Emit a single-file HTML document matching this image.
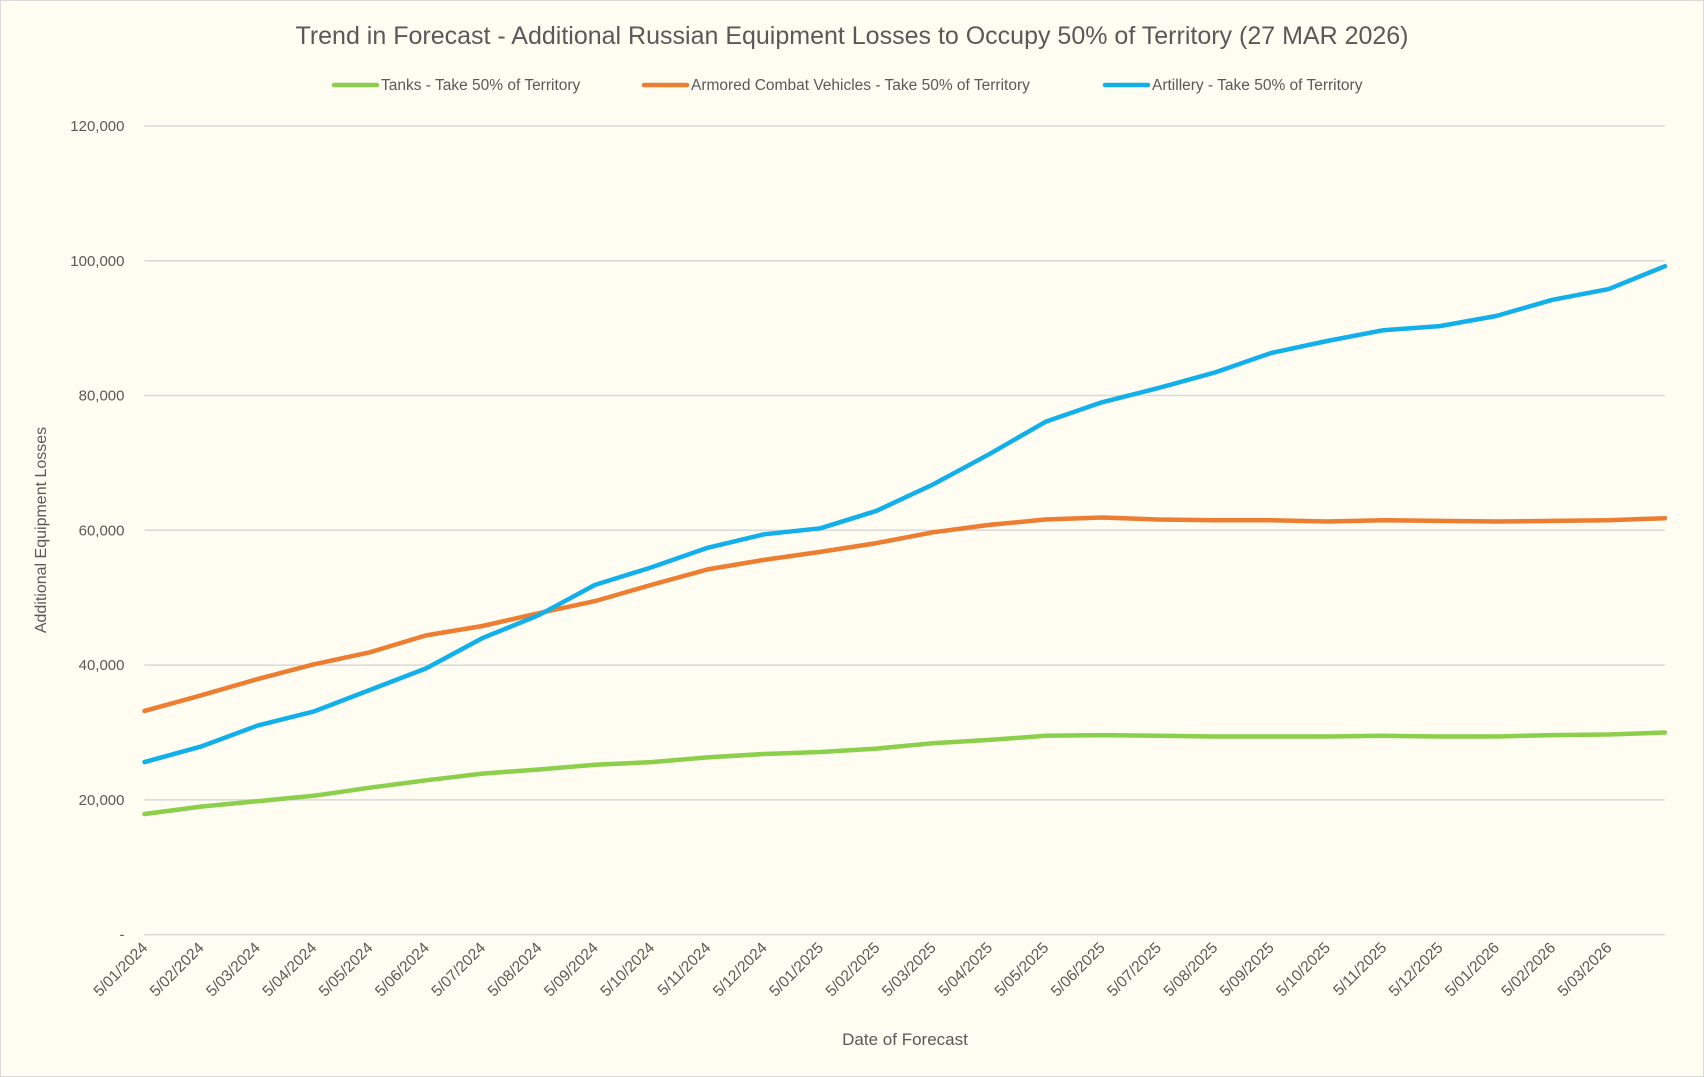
<!DOCTYPE html>
<html><head><meta charset="utf-8">
<style>
html,body{margin:0;padding:0;background:#fffcf2;}
svg{display:block;font-family:"Liberation Sans",sans-serif;}
</style></head>
<body>
<svg id="chart" width="1704" height="1077" viewBox="0 0 1704 1077" xmlns="http://www.w3.org/2000/svg">
<rect x="0.5" y="0.5" width="1703" height="1076" fill="#fffcf2" stroke="#d9d9d9"/>
<text x="852" y="44" text-anchor="middle" font-size="25" fill="#595959">Trend in Forecast - Additional Russian Equipment Losses to Occupy 50% of Territory (27 MAR 2026)</text>
<g id="legend"></g>
<g id="grid"></g>
<g id="yticks"></g>
<g id="xticks"></g>
<g id="series"></g>
<text transform="translate(46,530) rotate(-90)" text-anchor="middle" font-size="16" fill="#595959">Additional Equipment Losses</text>
<text x="905" y="1045" text-anchor="middle" font-size="17" fill="#595959">Date of Forecast</text>
</svg>
<script>
const xLabels = ["5/01/2024","5/02/2024","5/03/2024","5/04/2024","5/05/2024","5/06/2024","5/07/2024","5/08/2024","5/09/2024","5/10/2024","5/11/2024","5/12/2024","5/01/2025","5/02/2025","5/03/2025","5/04/2025","5/05/2025","5/06/2025","5/07/2025","5/08/2025","5/09/2025","5/10/2025","5/11/2025","5/12/2025","5/01/2026","5/02/2026","5/03/2026"];
const pointIdx = [0,1,2,3,4,5,6,7,8,9,10,11,12,13,14,15,16,17,18,19,20,21,22,23,24,25,26,27];
const tanks = [17.9,19.0,19.8,20.6,21.8,22.9,23.9,24.5,25.2,25.6,26.3,26.8,27.1,27.6,28.4,28.9,29.5,29.6,29.5,29.4,29.4,29.4,29.5,29.4,29.4,29.6,29.7,30.0];
const acv = [33.2,35.5,37.9,40.1,41.9,44.4,45.8,47.7,49.5,51.9,54.2,55.6,56.8,58.1,59.7,60.8,61.6,61.9,61.6,61.5,61.5,61.3,61.5,61.4,61.3,61.4,61.5,61.8];
const artillery = [25.6,27.9,31.0,33.1,36.3,39.5,44.0,47.4,51.9,54.5,57.4,59.4,60.3,62.9,66.8,71.3,76.1,79.0,81.1,83.4,86.3,88.1,89.7,90.3,91.8,94.2,95.8,99.2];
const yTicks = [0,20000,40000,60000,80000,100000,120000];
const seriesNames = ["Tanks - Take 50% of Territory","Armored Combat Vehicles - Take 50% of Territory","Artillery - Take 50% of Territory"];

const NS="http://www.w3.org/2000/svg";
const L=144.5,R=1665,Y0=934.6,Y120=126;
const xScale=i=>L+(R-L)*i/27;
const yScale=v=>Y0-(Y0-Y120)*v/120000;
function mk(tag,attrs,parent){const e=document.createElementNS(NS,tag);for(const k in attrs)e.setAttribute(k,attrs[k]);parent.appendChild(e);return e;}
const grid=document.getElementById('grid'),yt=document.getElementById('yticks'),xt=document.getElementById('xticks'),ser=document.getElementById('series'),leg=document.getElementById('legend');
yTicks.forEach(v=>{
  const y=yScale(v);
  const g=mk('line',{x1:L,x2:R,y1:y,y2:y,stroke:'#d9d9d9','stroke-width':1.5},grid);
  
  
  const t=mk('text',{x:L-20,y:y+5,'text-anchor':'end','font-size':15,fill:'#595959'},yt);
  t.textContent=v===0?'-':v.toLocaleString('en-US');
  
  
});
xLabels.forEach((s,i)=>{
  const x=xScale(i)+4,y=Y0+14;
  const t=mk('text',{transform:`translate(${x},${y}) rotate(-45)`,'text-anchor':'end','font-size':15.5,fill:'#595959'},xt);
  t.textContent=s;
  
  
});
const colors=['#8ccf4b','#ed7d31','#12b0ea'];
[tanks,acv,artillery].forEach((arr,si)=>{
  const d=arr.map((v,i)=>(i?'L':'M')+xScale(pointIdx[i]).toFixed(1)+','+yScale(v*1000).toFixed(1)).join(' ');
  const p=mk('path',{d:d,fill:'none',stroke:colors[si],'stroke-width':4.5,'stroke-linejoin':'round','stroke-linecap':'round'},ser);
  
  
});
const legX=[334,644,1105];
seriesNames.forEach((n,i)=>{
  const y=85;
  const l=mk('line',{x1:legX[i],x2:legX[i]+43,y1:y,y2:y,stroke:colors[i],'stroke-width':4.5,'stroke-linecap':'round'},leg);
  
  
  const t=mk('text',{x:legX[i]+47,y:y+5,'font-size':15.5,fill:'#595959'},leg);
  t.textContent=n;
  
  
});
</script>
</body></html>
